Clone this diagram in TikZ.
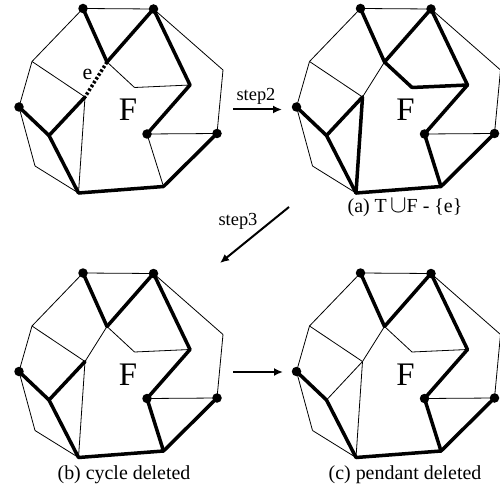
\documentclass[tikz,border=0pt]{standalone}
\usepackage{fontspec}
\setmainfont{Liberation Serif}
\usepackage{tikz}
\usetikzlibrary{arrows.meta, positioning, calc}

% corners of one graph, shifted by (#2,#3)
\newcommand{\placegraph}[3]{%
  \begin{scope}[shift={(#2,#3)}]
    \coordinate (#1A) at (83,8.5);
    \coordinate (#1B) at (153.5,9);
    \coordinate (#1C) at (223,70);
    \coordinate (#1D) at (217,133.5);
    \coordinate (#1E) at (163.5,186.5);
    \coordinate (#1G) at (78.5,193);
    \coordinate (#1H) at (35,166);
    \coordinate (#1L) at (19,107);
    \coordinate (#1U) at (32,61.5);
    \coordinate (#1P) at (107,62);
    \coordinate (#1Q) at (85,97);
    \coordinate (#1R) at (49,135.5);
    \coordinate (#1S) at (134.5,87.5);
    \coordinate (#1T) at (190,85);
    \coordinate (#1K) at (147,134);
    \node[bigF] (#1F) at (128,110) {F};
  \end{scope}}

\begin{document}
\begin{tikzpicture}[
    x=1bp, y=-1bp,
    thinedge/.style={line width=0.8bp, line join=round},
    treeedge/.style={line width=3.5bp, line cap=round, line join=round},
    removed/.style={line width=3.5bp, dash pattern=on 2.5bp off 2bp},
    dot/.style={circle, fill=black, inner sep=0pt, minimum size=9.5bp},
    bigF/.style={font=\fontsize{33}{36}\selectfont, inner sep=0pt},
    caption/.style={font=\fontsize{20}{22}\selectfont, inner sep=0pt, anchor=base},
    steplabel/.style={font=\fontsize{18.5}{20}\selectfont, inner sep=0pt},
    move/.style={-{Latex[length=9bp, width=8bp]}, line width=2bp}
]
    \useasboundingbox (0,0) rectangle (500,487);

    \placegraph{ga}{0}{0}
    \placegraph{gb}{277.5}{0}
    \placegraph{gc}{0}{264.5}
    \placegraph{gd}{277.5}{264.5}

    % edges every graph shares
    \foreach \g in {ga,gb,gc,gd}
        \foreach \u/\v in {A/B, B/C, C/D, A/U, U/L, L/H, H/G, U/Q, K/D}
            \draw[thinedge] (\g\u) -- (\g\v);

    % forest F with e
    \foreach \u/\v in {Q/G, P/S, S/T, K/E}
        \draw[thinedge] (ga\u) -- (ga\v);
    \foreach \u/\v in {A/P, P/B, B/T, T/K, D/E, E/G, G/R, R/L, R/Q}
        \draw[treeedge] (ga\u) -- (ga\v);
    \draw[removed] (gaP) -- (gaQ);
    \node[steplabel, font=\fontsize{22}{24}\selectfont] (elabel) at (87.5,74) {e};

    % (a)
    \draw[thinedge] (gbP) -- (gbQ);
    \foreach \u/\v in {A/P, P/B, P/S, S/T, B/T, T/K, K/E, D/E, E/G, G/Q, Q/R, R/L, G/R}
        \draw[treeedge] (gb\u) -- (gb\v);

    % (b)
    \foreach \u/\v in {P/Q, Q/G, P/S, S/T}
        \draw[thinedge] (gc\u) -- (gc\v);
    \foreach \u/\v in {A/P, P/B, B/T, T/K, K/E, D/E, E/G, G/R, R/L, R/Q}
        \draw[treeedge] (gc\u) -- (gc\v);

    % (c)
    \foreach \u/\v in {P/Q, Q/G, P/S, S/T, R/Q}
        \draw[thinedge] (gd\u) -- (gd\v);
    \foreach \u/\v in {A/P, P/B, B/T, T/K, K/E, D/E, E/G, G/R, R/L}
        \draw[treeedge] (gd\u) -- (gd\v);

    \foreach \g in {ga,gb,gc,gd}
        \foreach \v in {A,B,L,D,K}
            \node[dot] (\g\v dot) at (\g\v) {};

    \node[caption] (capa) at (405,212.5) {(a) T\,{\fontsize{24}{24}\selectfont$\cup$}F - \{e\}};
    \node[caption] (capb) at (124,479) {(b) cycle deleted};
    \node[caption] (capc) at (405,479) {(c) pendant deleted};

    \coordinate (s2from) at (233,109.5);
    \coordinate (s2to) at (282,109.5);
    \coordinate (s3from) at (289,207);
    \coordinate (s3to) at (220,263);
    \coordinate (s4from) at (233,372);
    \coordinate (s4to) at (283,372);

    \draw[move] (s2from) -- (s2to);
    \node[steplabel] (steptwo) at (256,96) {step2};
    \draw[move] (s3from) -- (s3to);
    \node[steplabel] (stepthree) at (238,221) {step3};
    \draw[move] (s4from) -- (s4to);
\end{tikzpicture}
\end{document}
